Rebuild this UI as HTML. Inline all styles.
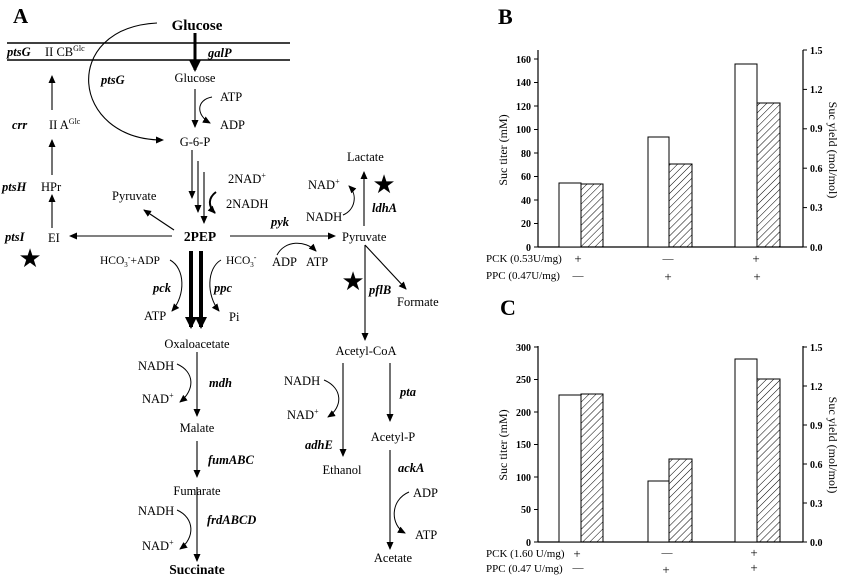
<!DOCTYPE html>
<html><head><meta charset="utf-8"><style>
html,body{margin:0;padding:0;background:#fff;}
svg{display:block;}
text{font-family:"Liberation Serif",serif;fill:#000;}
.b{font-weight:bold;}
.i{font-style:italic;font-weight:bold;}
.s{font-family:"Liberation Sans",sans-serif;}
</style></head><body>
<svg width="852" height="578" viewBox="0 0 852 578" xmlns="http://www.w3.org/2000/svg">
<defs>
<marker id="a" markerWidth="8" markerHeight="8" refX="7" refY="4" orient="auto" markerUnits="userSpaceOnUse"><path d="M0,0.5 L8,4 L0,7.5 z" fill="#000"/></marker>
<marker id="at" markerWidth="12" markerHeight="12" refX="10" refY="6" orient="auto" markerUnits="userSpaceOnUse"><path d="M0,0 L12,6 L0,12 z" fill="#000"/></marker>
<pattern id="h" width="5" height="5" patternUnits="userSpaceOnUse" patternTransform="rotate(45)"><line x1="0" y1="0" x2="0" y2="5" stroke="#000" stroke-width="1"/></pattern>
</defs>
<g font-size="12.5">
<text x="13" y="23" class="b" font-size="21">A</text>
<text x="197" y="30" class="b" font-size="15" text-anchor="middle">Glucose</text>
<line x1="7" y1="43" x2="290" y2="43" stroke="#000" stroke-width="1.6"/>
<line x1="7" y1="60" x2="290" y2="60" stroke="#000" stroke-width="1.6"/>
<text x="7" y="56" class="i">ptsG</text>
<text x="45" y="56">II CB<tspan font-size="8" dy="-5">Glc</tspan></text>
<text x="208" y="57" class="i">galP</text>
<line x1="195" y1="33" x2="195" y2="70" stroke="#000" stroke-width="3" marker-end="url(#at)"/>
<text x="195" y="82" text-anchor="middle">Glucose</text>
<path d="M157,23 C60,28 70,140 163,140" fill="none" stroke="#000" stroke-width="1.1" marker-end="url(#a)"/>
<text x="101" y="84" class="i">ptsG</text>
<line x1="195" y1="89" x2="195" y2="127" stroke="#000" stroke-width="1.1" marker-end="url(#a)"/>
<text x="220" y="101">ATP</text><text x="220" y="129">ADP</text>
<path d="M212,97 C196,100 196,115 210,123" fill="none" stroke="#000" stroke-width="1" marker-end="url(#a)"/>
<text x="195" y="146" text-anchor="middle">G-6-P</text>
<line x1="192" y1="150" x2="192" y2="198" stroke="#000" stroke-width="1.1" marker-end="url(#a)"/>
<line x1="198" y1="161" x2="198" y2="212" stroke="#000" stroke-width="1.1" marker-end="url(#a)"/>
<line x1="204" y1="172" x2="204" y2="223" stroke="#000" stroke-width="1.1" marker-end="url(#a)"/>
<text x="228" y="183">2NAD<tspan font-size="8" dy="-5">+</tspan></text>
<text x="226" y="208">2NADH</text>
<path d="M216,192 C208,198 208,206 215,213" fill="none" stroke="#000" stroke-width="2" marker-end="url(#a)"/>
<text x="112" y="200">Pyruvate</text>
<line x1="174" y1="230" x2="144" y2="210" stroke="#000" stroke-width="1.1" marker-end="url(#a)"/>
<text x="200" y="241" class="b" font-size="13.5" text-anchor="middle">2PEP</text>
<line x1="172" y1="236" x2="70" y2="236" stroke="#000" stroke-width="1.1" marker-end="url(#a)"/>
<text x="48" y="242">EI</text>
<text x="5" y="241" class="i">ptsI</text>
<text x="30" y="267" font-size="26" text-anchor="middle">★</text>
<line x1="52" y1="228" x2="52" y2="195" stroke="#000" stroke-width="1.1" marker-end="url(#a)"/>
<text x="41" y="191">HPr</text>
<text x="2" y="191" class="i">ptsH</text>
<line x1="52" y1="175" x2="52" y2="140" stroke="#000" stroke-width="1.1" marker-end="url(#a)"/>
<text x="49" y="129">II A<tspan font-size="8" dy="-5">Glc</tspan></text>
<text x="12" y="129" class="i">crr</text>
<line x1="52" y1="110" x2="52" y2="76" stroke="#000" stroke-width="1.1" marker-end="url(#a)"/>
<line x1="230" y1="236" x2="335" y2="236" stroke="#000" stroke-width="1.1" marker-end="url(#a)"/>
<text x="271" y="226" class="i">pyk</text>
<path d="M277,255 C285,240 305,240 316,251" fill="none" stroke="#000" stroke-width="1" marker-end="url(#a)"/>
<text x="272" y="266">ADP</text><text x="306" y="266">ATP</text>
<text x="342" y="241">Pyruvate</text>
<text x="347" y="161">Lactate</text>
<line x1="364" y1="226" x2="364" y2="172" stroke="#000" stroke-width="1.1" marker-end="url(#a)"/>
<text x="308" y="189">NAD<tspan font-size="8" dy="-5">+</tspan></text>
<text x="306" y="221">NADH</text>
<path d="M343,215 C355,210 358,195 349,186" fill="none" stroke="#000" stroke-width="1" marker-end="url(#a)"/>
<text x="384" y="193" font-size="26" text-anchor="middle">★</text>
<text x="372" y="212" class="i">ldhA</text>
<line x1="365" y1="245" x2="365" y2="340" stroke="#000" stroke-width="1.1" marker-end="url(#a)"/>
<line x1="365" y1="245" x2="406" y2="289" stroke="#000" stroke-width="1.1" marker-end="url(#a)"/>
<text x="353" y="290" font-size="26" text-anchor="middle">★</text>
<text x="369" y="294" class="i">pflB</text>
<text x="397" y="306">Formate</text>
<text x="100" y="264" font-size="11.5">HCO<tspan font-size="7" dy="3">3</tspan><tspan dy="-7" font-size="8">-</tspan><tspan dy="4">+ADP</tspan></text>
<text x="226" y="264" font-size="11.5">HCO<tspan font-size="7" dy="3">3</tspan><tspan dy="-7" font-size="8">-</tspan></text>
<path d="M170,260 C185,268 186,295 172,311" fill="none" stroke="#000" stroke-width="1" marker-end="url(#a)"/>
<path d="M221,260 C207,268 206,295 219,311" fill="none" stroke="#000" stroke-width="1" marker-end="url(#a)"/>
<text x="153" y="292" class="i">pck</text>
<text x="214" y="292" class="i">ppc</text>
<text x="144" y="320">ATP</text><text x="229" y="321">Pi</text>
<line x1="191" y1="251" x2="191" y2="327" stroke="#000" stroke-width="4" marker-end="url(#at)"/>
<line x1="201" y1="251" x2="201" y2="327" stroke="#000" stroke-width="4" marker-end="url(#at)"/>
<text x="197" y="348" text-anchor="middle">Oxaloacetate</text>
<line x1="197" y1="352" x2="197" y2="416" stroke="#000" stroke-width="1.1" marker-end="url(#a)"/>
<text x="138" y="370">NADH</text><text x="142" y="403">NAD<tspan font-size="8" dy="-5">+</tspan></text>
<path d="M177,364 C195,372 195,390 180,402" fill="none" stroke="#000" stroke-width="1" marker-end="url(#a)"/>
<text x="209" y="387" class="i">mdh</text>
<text x="197" y="432" text-anchor="middle">Malate</text>
<line x1="197" y1="441" x2="197" y2="477" stroke="#000" stroke-width="1.1" marker-end="url(#a)"/>
<text x="208" y="464" class="i">fumABC</text>
<text x="197" y="495" text-anchor="middle">Fumarate</text>
<line x1="197" y1="487" x2="197" y2="561" stroke="#000" stroke-width="1.1" marker-end="url(#a)"/>
<text x="138" y="515">NADH</text><text x="142" y="550">NAD<tspan font-size="8" dy="-5">+</tspan></text>
<path d="M177,510 C195,518 195,538 180,549" fill="none" stroke="#000" stroke-width="1" marker-end="url(#a)"/>
<text x="207" y="524" class="i">frdABCD</text>
<text x="197" y="574" class="b" font-size="13.5" text-anchor="middle">Succinate</text>
<text x="366" y="355" text-anchor="middle">Acetyl-CoA</text>
<line x1="343" y1="363" x2="343" y2="456" stroke="#000" stroke-width="1.1" marker-end="url(#a)"/>
<line x1="390" y1="363" x2="390" y2="421" stroke="#000" stroke-width="1.1" marker-end="url(#a)"/>
<text x="284" y="385">NADH</text><text x="287" y="419">NAD<tspan font-size="8" dy="-5">+</tspan></text>
<path d="M324,380 C343,388 343,407 328,417" fill="none" stroke="#000" stroke-width="1" marker-end="url(#a)"/>
<text x="305" y="449" class="i">adhE</text>
<text x="342" y="474" text-anchor="middle">Ethanol</text>
<text x="400" y="396" class="i">pta</text>
<text x="393" y="441" text-anchor="middle">Acetyl-P</text>
<line x1="390" y1="450" x2="390" y2="549" stroke="#000" stroke-width="1.1" marker-end="url(#a)"/>
<text x="398" y="472" class="i">ackA</text>
<text x="413" y="497">ADP</text><text x="415" y="539">ATP</text>
<path d="M409,492 C390,500 390,525 405,533" fill="none" stroke="#000" stroke-width="1" marker-end="url(#a)"/>
<text x="393" y="562" text-anchor="middle">Acetate</text>
</g>

<!-- Chart B -->
<g font-size="11">
<text x="498" y="24" class="b" font-size="22">B</text>
<line x1="538" y1="50" x2="538" y2="247" stroke="#000" stroke-width="1.2"/>
<line x1="803" y1="50" x2="803" y2="247" stroke="#000" stroke-width="1.2"/>
<line x1="538" y1="247" x2="803" y2="247" stroke="#000" stroke-width="1.2"/>
<g stroke="#000" stroke-width="1">
<line x1="534" y1="247" x2="538" y2="247"/><line x1="534" y1="223.5" x2="538" y2="223.5"/><line x1="534" y1="200" x2="538" y2="200"/><line x1="534" y1="176.5" x2="538" y2="176.5"/><line x1="534" y1="153" x2="538" y2="153"/><line x1="534" y1="129.5" x2="538" y2="129.5"/><line x1="534" y1="106" x2="538" y2="106"/><line x1="534" y1="82.5" x2="538" y2="82.5"/><line x1="534" y1="59" x2="538" y2="59"/>
<line x1="803" y1="247" x2="807" y2="247"/><line x1="803" y1="207.6" x2="807" y2="207.6"/><line x1="803" y1="168.2" x2="807" y2="168.2"/><line x1="803" y1="128.8" x2="807" y2="128.8"/><line x1="803" y1="89.4" x2="807" y2="89.4"/><line x1="803" y1="50" x2="807" y2="50"/>
</g>
<g text-anchor="end" class="b" font-size="10">
<text x="531" y="251">0</text><text x="531" y="227">20</text><text x="531" y="204">40</text><text x="531" y="180">60</text><text x="531" y="157">80</text><text x="531" y="133">100</text><text x="531" y="110">120</text><text x="531" y="86">140</text><text x="531" y="63">160</text>
</g>
<g class="b" font-size="10">
<text x="810" y="251">0.0</text><text x="810" y="211">0.3</text><text x="810" y="172">0.6</text><text x="810" y="132">0.9</text><text x="810" y="93">1.2</text><text x="810" y="54">1.5</text>
</g>
<text transform="translate(507,150) rotate(-90)" text-anchor="middle" font-size="12">Suc titer (mM)</text>
<text transform="translate(829,150) rotate(90)" text-anchor="middle" font-size="12">Suc yield (mol/mol)</text>
<g stroke="#000" stroke-width="1">
<rect x="559" y="183" width="22" height="64" fill="#fff"/><rect x="581" y="184" width="22" height="63" fill="url(#h)"/>
<rect x="648" y="137" width="21" height="110" fill="#fff"/><rect x="669" y="164" width="23" height="83" fill="url(#h)"/>
<rect x="735" y="64" width="22" height="183" fill="#fff"/><rect x="757" y="103" width="23" height="144" fill="url(#h)"/>
</g>
<text x="486" y="262">PCK (0.53U/mg)</text><text x="486" y="279">PPC (0.47U/mg)</text>
<text x="578" y="263" text-anchor="middle" font-size="13">+</text><text x="578" y="279" text-anchor="middle">—</text>
<text x="668" y="262" text-anchor="middle">—</text><text x="668" y="281" text-anchor="middle" font-size="13">+</text>
<text x="756" y="263" text-anchor="middle" font-size="13">+</text><text x="757" y="281" text-anchor="middle" font-size="13">+</text>
</g>

<!-- Chart C -->
<g font-size="11">
<text x="500" y="315" class="b" font-size="22">C</text>
<line x1="538" y1="346" x2="538" y2="542" stroke="#000" stroke-width="1.2"/>
<line x1="803" y1="346" x2="803" y2="542" stroke="#000" stroke-width="1.2"/>
<line x1="538" y1="542" x2="803" y2="542" stroke="#000" stroke-width="1.2"/>
<g stroke="#000" stroke-width="1">
<line x1="534" y1="542" x2="538" y2="542"/><line x1="534" y1="509.5" x2="538" y2="509.5"/><line x1="534" y1="477" x2="538" y2="477"/><line x1="534" y1="444.5" x2="538" y2="444.5"/><line x1="534" y1="412" x2="538" y2="412"/><line x1="534" y1="379.5" x2="538" y2="379.5"/><line x1="534" y1="347" x2="538" y2="347"/>
<line x1="803" y1="542" x2="807" y2="542"/><line x1="803" y1="503" x2="807" y2="503"/><line x1="803" y1="464" x2="807" y2="464"/><line x1="803" y1="425" x2="807" y2="425"/><line x1="803" y1="386" x2="807" y2="386"/><line x1="803" y1="347" x2="807" y2="347"/>
</g>
<g text-anchor="end" class="b" font-size="10">
<text x="531" y="546">0</text><text x="531" y="513">50</text><text x="531" y="481">100</text><text x="531" y="448">150</text><text x="531" y="416">200</text><text x="531" y="383">250</text><text x="531" y="351">300</text>
</g>
<g class="b" font-size="10">
<text x="810" y="546">0.0</text><text x="810" y="507">0.3</text><text x="810" y="468">0.6</text><text x="810" y="429">0.9</text><text x="810" y="390">1.2</text><text x="810" y="351">1.5</text>
</g>
<text transform="translate(507,445) rotate(-90)" text-anchor="middle" font-size="12">Suc titer (mM)</text>
<text transform="translate(829,445) rotate(90)" text-anchor="middle" font-size="12">Suc yield (mol/mol)</text>
<g stroke="#000" stroke-width="1">
<rect x="559" y="395" width="22" height="147" fill="#fff"/><rect x="581" y="394" width="22" height="148" fill="url(#h)"/>
<rect x="648" y="481" width="21" height="61" fill="#fff"/><rect x="669" y="459" width="23" height="83" fill="url(#h)"/>
<rect x="735" y="359" width="22" height="183" fill="#fff"/><rect x="757" y="379" width="23" height="163" fill="url(#h)"/>
</g>
<text x="486" y="557">PCK (1.60 U/mg)</text><text x="486" y="572">PPC (0.47 U/mg)</text>
<text x="577" y="558" text-anchor="middle" font-size="13">+</text><text x="578" y="571" text-anchor="middle">—</text>
<text x="667" y="556" text-anchor="middle">—</text><text x="666" y="574" text-anchor="middle" font-size="13">+</text>
<text x="754" y="557" text-anchor="middle" font-size="13">+</text><text x="754" y="572" text-anchor="middle" font-size="13">+</text>
</g>
</svg>
</body></html>
